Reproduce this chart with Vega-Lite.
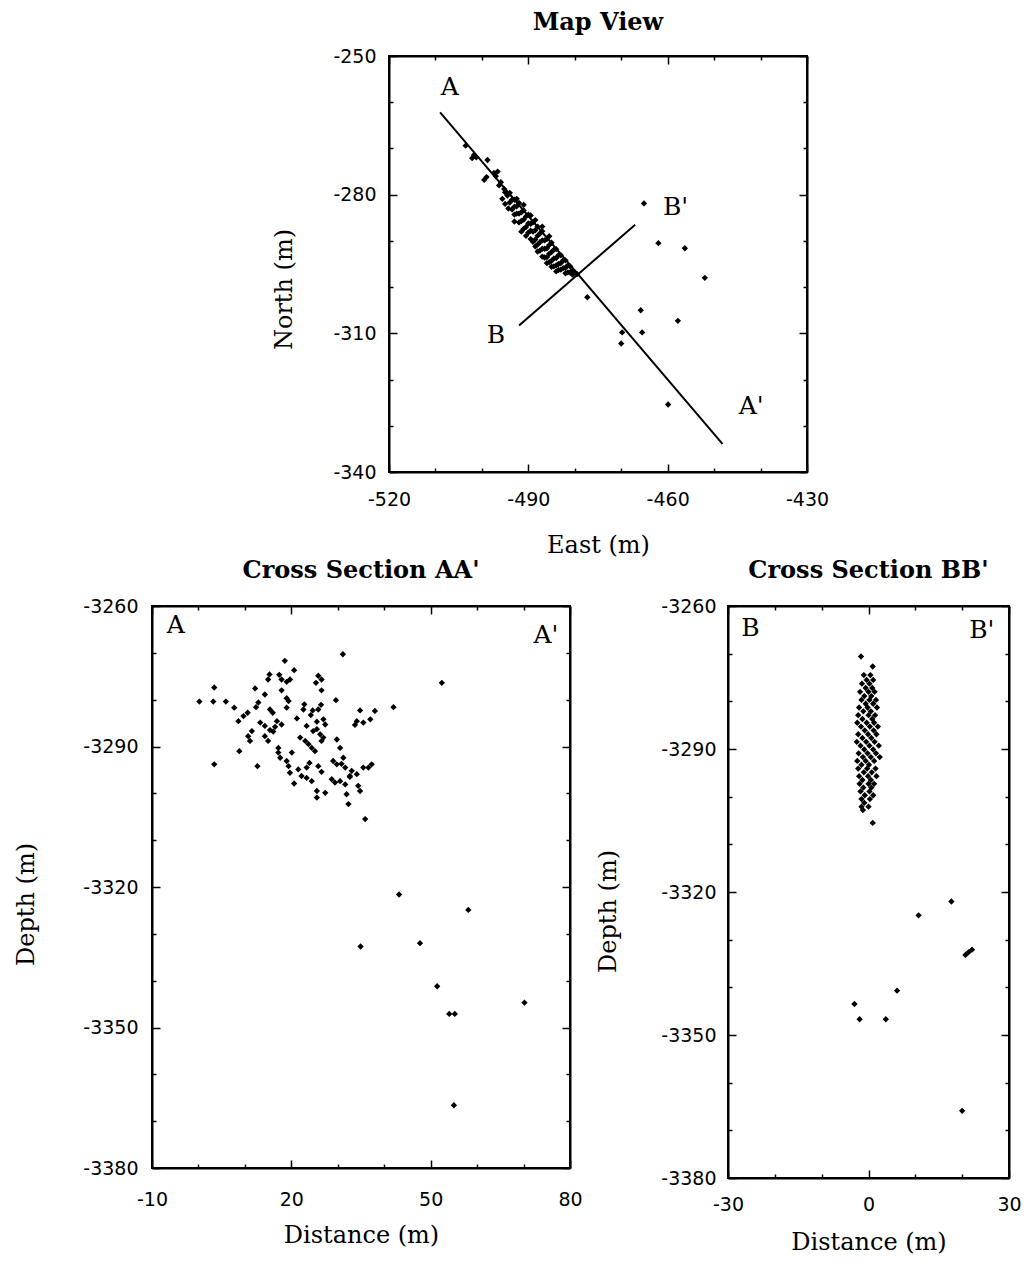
{
  "$schema": "https://vega.github.io/schema/vega-lite/v6.json",
  "background": "white",
  "padding": {"left": 13, "top": 10, "right": 5, "bottom": 5},
  "config": {
    "view": {"stroke": "black", "strokeWidth": 2},
    "axis": {"grid": false, "domainColor": "black", "domainWidth": 2, "tickColor": "black", "tickWidth": 1.5, "labelFont": "DejaVu Sans", "labelFontSize": 19, "labelColor": "black", "titleFont": "DejaVu Serif", "titleFontSize": 24, "titleFontWeight": "normal", "titleColor": "black", "labelFlush": false, "labelOverlap": false},
    "title": {"font": "DejaVu Serif", "fontSize": 24, "fontWeight": "bold", "color": "black", "anchor": "middle"}
  },
  "datasets": {
    "mapPts": [
      {"e": -503.5, "n": -269.4}, {"e": -501.7, "n": -271.4}, {"e": -502.1, "n": -272.1}, {"e": -501.2, "n": -271.9}, {"e": -498.8, "n": -272.5}, {"e": -499.5, "n": -276.8}, {"e": -499.0, "n": -276.2}, {"e": -497.4, "n": -275.3}, {"e": -497.0, "n": -276.0}, {"e": -496.6, "n": -275.0}, {"e": -495.9, "n": -277.3}, {"e": -496.3, "n": -278.0}, {"e": -495.2, "n": -278.8}, {"e": -495.6, "n": -280.9}, {"e": -494.5, "n": -280.2}, {"e": -495.0, "n": -279.5}, {"e": -495.0, "n": -282.0}, {"e": -494.3, "n": -283.0},
      {"e": -494.0, "n": -279.6}, {"e": -494.0, "n": -281.7}, {"e": -493.5, "n": -281.1}, {"e": -493.5, "n": -283.2}, {"e": -493.0, "n": -281.1}, {"e": -493.0, "n": -282.6}, {"e": -493.0, "n": -284.3}, {"e": -492.5, "n": -282.5}, {"e": -492.5, "n": -284.1}, {"e": -492.0, "n": -281.8}, {"e": -492.0, "n": -284.1}, {"e": -492.0, "n": -286.0}, {"e": -491.5, "n": -283.8}, {"e": -491.5, "n": -285.7}, {"e": -491.0, "n": -283.4}, {"e": -491.0, "n": -285.4}, {"e": -491.0, "n": -287.4}, {"e": -490.5, "n": -284.7}, {"e": -490.5, "n": -287.0}, {"e": -490.0, "n": -284.3}, {"e": -490.0, "n": -286.2}, {"e": -490.0, "n": -288.2}, {"e": -489.5, "n": -286.3}, {"e": -489.5, "n": -287.8}, {"e": -489.5, "n": -289.6}, {"e": -489.0, "n": -286.0}, {"e": -489.0, "n": -288.0}, {"e": -488.5, "n": -287.7}, {"e": -488.5, "n": -289.7}, {"e": -488.5, "n": -291.2}, {"e": -488.0, "n": -286.9}, {"e": -488.0, "n": -288.9}, {"e": -488.0, "n": -290.8}, {"e": -487.5, "n": -288.4}, {"e": -487.5, "n": -290.3}, {"e": -487.5, "n": -292.1}, {"e": -487.0, "n": -287.9}, {"e": -487.0, "n": -289.9}, {"e": -487.0, "n": -291.7}, {"e": -486.5, "n": -289.9}, {"e": -486.5, "n": -291.7}, {"e": -486.5, "n": -293.6}, {"e": -486.0, "n": -289.6}, {"e": -486.0, "n": -291.6}, {"e": -486.0, "n": -293.5}, {"e": -485.5, "n": -290.9}, {"e": -485.5, "n": -292.8}, {"e": -485.5, "n": -294.6}, {"e": -485.0, "n": -290.4}, {"e": -485.0, "n": -292.4}, {"e": -485.0, "n": -294.3}, {"e": -484.5, "n": -291.9}, {"e": -484.5, "n": -293.8}, {"e": -484.5, "n": -295.5}, {"e": -484.0, "n": -291.8}, {"e": -484.0, "n": -293.7}, {"e": -484.0, "n": -295.3}, {"e": -483.5, "n": -293.1}, {"e": -483.5, "n": -295.0}, {"e": -483.5, "n": -296.3}, {"e": -483.0, "n": -293.1}, {"e": -483.0, "n": -294.8}, {"e": -483.0, "n": -296.2}, {"e": -482.5, "n": -294.2}, {"e": -482.5, "n": -295.9}, {"e": -482.0, "n": -294.2}, {"e": -482.0, "n": -295.8}, {"e": -482.0, "n": -297.0}, {"e": -481.5, "n": -295.3}, {"e": -481.5, "n": -296.8}, {"e": -481.0, "n": -295.5}, {"e": -481.0, "n": -296.8}, {"e": -480.5, "n": -296.4}, {"e": -480.5, "n": -297.3}, {"e": -480.0, "n": -296.8}, {"e": -479.5, "n": -297.2},
      {"e": -491.5, "n": -288.0}, {"e": -490.5, "n": -288.9}, {"e": -489.0, "n": -290.2}, {"e": -488.0, "n": -292.3}, {"e": -487.0, "n": -293.4}, {"e": -486.0, "n": -294.8}, {"e": -485.0, "n": -295.6}, {"e": -484.0, "n": -296.6}, {"e": -493.0, "n": -285.8}, {"e": -492.5, "n": -280.9}, {"e": -491.0, "n": -282.2}, {"e": -489.5, "n": -284.5}, {"e": -488.5, "n": -285.5}, {"e": -487.0, "n": -286.9}, {"e": -485.5, "n": -289.0},
      {"e": -465.1, "n": -281.9}, {"e": -462.0, "n": -290.5}, {"e": -456.3, "n": -291.6}, {"e": -452.0, "n": -298.0}, {"e": -477.3, "n": -302.2}, {"e": -465.8, "n": -305.0}, {"e": -457.8, "n": -307.3}, {"e": -469.8, "n": -309.8}, {"e": -465.5, "n": -309.8}, {"e": -470.0, "n": -312.2}, {"e": -459.9, "n": -325.4}
    ],
    "mapLines": [
      {"seg": "AA'", "i": 0, "e": -509.0, "n": -262.2}, {"seg": "AA'", "i": 1, "e": -448.2, "n": -333.9},
      {"seg": "BB'", "i": 0, "e": -492.0, "n": -308.3}, {"seg": "BB'", "i": 1, "e": -467.0, "n": -286.5}
    ],
    "mapText": [
      {"label": "A", "e": -506.9, "n": -256.7}, {"label": "A'", "e": -442.0, "n": -325.7}, {"label": "B", "e": -497.0, "n": -310.4}, {"label": "B'", "e": -458.3, "n": -282.7}
    ],
    "aaPts": [
      {"d": 31.1, "z": -3270.3}, {"d": 18.6, "z": -3271.7}, {"d": 20.6, "z": -3273.7}, {"d": 15.3, "z": -3274.6}, {"d": 15.0, "z": -3275.7}, {"d": 17.4, "z": -3274.7}, {"d": 17.9, "z": -3275.7}, {"d": 19.0, "z": -3276.2}, {"d": 19.7, "z": -3275.7}, {"d": 25.8, "z": -3274.9}, {"d": 26.5, "z": -3275.7}, {"d": 25.3, "z": -3276.4}, {"d": 52.4, "z": -3276.4}, {"d": 3.4, "z": -3277.4}, {"d": 12.2, "z": -3277.6}, {"d": 17.9, "z": -3278.0}, {"d": 26.5, "z": -3278.0}, {"d": 14.3, "z": -3278.9}, {"d": 19.0, "z": -3279.7}, {"d": 19.4, "z": -3280.3}, {"d": 0.2, "z": -3280.4}, {"d": 3.2, "z": -3280.4}, {"d": 5.9, "z": -3280.4}, {"d": 7.7, "z": -3281.7}, {"d": 29.6, "z": -3280.1}, {"d": 42.0, "z": -3281.6}, {"d": 34.8, "z": -3282.3}, {"d": 38.0, "z": -3282.4}, {"d": 12.9, "z": -3280.6}, {"d": 12.4, "z": -3281.6}, {"d": 22.8, "z": -3281.0}, {"d": 22.6, "z": -3282.1}, {"d": 26.4, "z": -3281.1}, {"d": 25.8, "z": -3282.1}, {"d": 15.4, "z": -3282.1}, {"d": 16.0, "z": -3282.8}, {"d": 24.6, "z": -3282.3}, {"d": 24.2, "z": -3283.3}, {"d": 19.0, "z": -3281.7}, {"d": 10.6, "z": -3282.8}, {"d": 9.7, "z": -3283.5}, {"d": 8.6, "z": -3284.6}, {"d": 21.2, "z": -3284.0}, {"d": 26.9, "z": -3284.2}, {"d": 25.5, "z": -3284.7}, {"d": 27.3, "z": -3285.3}, {"d": 34.1, "z": -3284.6}, {"d": 33.7, "z": -3285.4}, {"d": 37.0, "z": -3284.2}, {"d": 35.5, "z": -3284.9}, {"d": 13.3, "z": -3284.9}, {"d": 14.3, "z": -3285.6}, {"d": 16.9, "z": -3284.6}, {"d": 16.5, "z": -3285.8}, {"d": 17.9, "z": -3285.3}, {"d": 16.1, "z": -3286.8}, {"d": 15.4, "z": -3286.5}, {"d": 23.3, "z": -3285.6}, {"d": 24.7, "z": -3286.7}, {"d": 25.5, "z": -3286.3}, {"d": 11.5, "z": -3286.7}, {"d": 10.7, "z": -3287.8}, {"d": 11.1, "z": -3288.8}, {"d": 14.3, "z": -3287.8}, {"d": 15.0, "z": -3288.8}, {"d": 21.9, "z": -3288.1}, {"d": 23.0, "z": -3288.8}, {"d": 23.7, "z": -3289.5}, {"d": 24.4, "z": -3290.3}, {"d": 25.1, "z": -3291.0}, {"d": 26.2, "z": -3287.4}, {"d": 26.5, "z": -3288.8}, {"d": 26.9, "z": -3288.1}, {"d": 29.8, "z": -3288.5}, {"d": 30.5, "z": -3290.3}, {"d": 8.8, "z": -3291.0}, {"d": 17.2, "z": -3290.3}, {"d": 17.2, "z": -3291.3}, {"d": 17.6, "z": -3292.4}, {"d": 20.1, "z": -3291.3}, {"d": 19.0, "z": -3293.1}, {"d": 19.4, "z": -3294.2}, {"d": 23.9, "z": -3293.5}, {"d": 23.3, "z": -3294.5}, {"d": 25.8, "z": -3294.2}, {"d": 26.5, "z": -3295.4}, {"d": 29.0, "z": -3293.1}, {"d": 29.8, "z": -3293.8}, {"d": 30.8, "z": -3293.7}, {"d": 31.2, "z": -3292.4}, {"d": 31.6, "z": -3294.5}, {"d": 33.0, "z": -3295.2}, {"d": 32.6, "z": -3296.3}, {"d": 34.1, "z": -3295.9}, {"d": 35.5, "z": -3294.5}, {"d": 37.3, "z": -3293.8}, {"d": 36.6, "z": -3294.5}, {"d": 3.4, "z": -3293.8}, {"d": 12.7, "z": -3294.2}, {"d": 19.7, "z": -3295.6}, {"d": 21.5, "z": -3294.9}, {"d": 22.2, "z": -3296.3}, {"d": 23.3, "z": -3296.7}, {"d": 24.4, "z": -3297.4}, {"d": 20.6, "z": -3297.9}, {"d": 28.7, "z": -3297.0}, {"d": 29.4, "z": -3297.7}, {"d": 30.5, "z": -3297.4}, {"d": 31.6, "z": -3298.1}, {"d": 32.6, "z": -3296.5}, {"d": 34.4, "z": -3298.4}, {"d": 34.8, "z": -3299.5}, {"d": 25.5, "z": -3299.5}, {"d": 25.5, "z": -3300.9}, {"d": 27.3, "z": -3299.9}, {"d": 31.9, "z": -3300.2}, {"d": 32.3, "z": -3302.3}, {"d": 35.9, "z": -3305.5},
      {"d": 43.2, "z": -3321.6}, {"d": 58.1, "z": -3324.9}, {"d": 34.9, "z": -3332.7}, {"d": 47.7, "z": -3332.0}, {"d": 51.4, "z": -3341.2}, {"d": 54.0, "z": -3347.1}, {"d": 55.2, "z": -3347.1}, {"d": 70.2, "z": -3344.7}, {"d": 55.0, "z": -3366.6}
    ],
    "aaText": [{"label": "A", "d": -4.9, "z": -3264.1}, {"label": "A'", "d": 74.8, "z": -3266.2}],
    "bbPts": [
      {"d": -1.6, "z": -3270.6}, {"d": 0.9, "z": -3272.7}, {"d": -1.0, "z": -3274.5}, {"d": 0.4, "z": -3274.5}, {"d": -0.4, "z": -3275.5}, {"d": 1.0, "z": -3275.5}, {"d": -1.4, "z": -3276.3}, {"d": 0.2, "z": -3276.3}, {"d": 0.8, "z": -3277.2}, {"d": -0.6, "z": -3277.2}, {"d": -1.8, "z": -3278.0}, {"d": 0.0, "z": -3278.0}, {"d": 1.3, "z": -3278.0}, {"d": -0.9, "z": -3278.9}, {"d": 0.6, "z": -3278.9}, {"d": -1.5, "z": -3279.7}, {"d": 0.2, "z": -3279.7}, {"d": 1.6, "z": -3279.7}, {"d": -0.6, "z": -3280.5}, {"d": 1.0, "z": -3280.5}, {"d": -2.0, "z": -3281.3}, {"d": -0.2, "z": -3281.3}, {"d": 1.8, "z": -3281.3}, {"d": -1.1, "z": -3282.1}, {"d": 0.5, "z": -3282.1}, {"d": -2.2, "z": -3282.9}, {"d": 0.0, "z": -3282.9}, {"d": 1.4, "z": -3282.9}, {"d": -1.3, "z": -3283.7}, {"d": 0.8, "z": -3283.7}, {"d": -2.4, "z": -3284.5}, {"d": -0.4, "z": -3284.5}, {"d": 1.2, "z": -3284.5}, {"d": -1.6, "z": -3285.3}, {"d": 0.3, "z": -3285.3}, {"d": 2.0, "z": -3285.3}, {"d": -0.8, "z": -3286.1}, {"d": 1.1, "z": -3286.1}, {"d": -2.2, "z": -3286.9}, {"d": -0.1, "z": -3286.9}, {"d": 1.7, "z": -3286.9}, {"d": -1.3, "z": -3287.7}, {"d": 0.6, "z": -3287.7}, {"d": -2.5, "z": -3288.5}, {"d": -0.5, "z": -3288.5}, {"d": 1.3, "z": -3288.5}, {"d": -1.7, "z": -3289.3}, {"d": 0.2, "z": -3289.3}, {"d": 2.2, "z": -3289.3}, {"d": -0.9, "z": -3290.1}, {"d": 1.0, "z": -3290.1}, {"d": -2.1, "z": -3290.9}, {"d": -0.2, "z": -3290.9}, {"d": 1.6, "z": -3290.9}, {"d": -1.2, "z": -3291.7}, {"d": 0.5, "z": -3291.7}, {"d": 2.4, "z": -3291.7}, {"d": -2.4, "z": -3292.5}, {"d": -0.6, "z": -3292.5}, {"d": 1.2, "z": -3292.5}, {"d": -1.5, "z": -3293.3}, {"d": 0.1, "z": -3293.3}, {"d": -2.2, "z": -3294.1}, {"d": -0.3, "z": -3294.1}, {"d": 1.5, "z": -3294.1}, {"d": -1.0, "z": -3294.9}, {"d": 0.7, "z": -3294.9}, {"d": -2.0, "z": -3295.7}, {"d": -0.1, "z": -3295.7}, {"d": 1.7, "z": -3295.7}, {"d": -1.3, "z": -3296.5}, {"d": 0.5, "z": -3296.5}, {"d": -1.9, "z": -3297.3}, {"d": 0.0, "z": -3297.3}, {"d": 1.2, "z": -3297.3}, {"d": -1.1, "z": -3298.1}, {"d": 0.6, "z": -3298.1}, {"d": -1.7, "z": -3298.9}, {"d": 0.2, "z": -3298.9}, {"d": -0.8, "z": -3299.7}, {"d": 1.0, "z": -3299.7}, {"d": -1.5, "z": -3300.5}, {"d": 0.3, "z": -3300.5}, {"d": -0.9, "z": -3301.3}, {"d": -1.5, "z": -3302.1}, {"d": 0.0, "z": -3302.1}, {"d": -1.2, "z": -3302.8}, {"d": 0.9, "z": -3305.5},
      {"d": 17.7, "z": -3322.0}, {"d": 10.7, "z": -3324.9}, {"d": 20.7, "z": -3333.2}, {"d": 21.4, "z": -3332.6}, {"d": 22.1, "z": -3332.1}, {"d": 6.1, "z": -3340.7}, {"d": -3.0, "z": -3343.5}, {"d": -1.9, "z": -3346.7}, {"d": 3.7, "z": -3346.7}, {"d": 20.0, "z": -3365.9}
    ],
    "bbText": [{"label": "B", "d": -25.2, "z": -3264.6}, {"label": "B'", "d": 24.2, "z": -3265.1}]
  },
  "spacing": 0,
  "vconcat": [
    {
      "spacing": 117,
      "hconcat": [
        {"width": 2, "height": 1, "view": {"stroke": null, "fill": "white"}, "data": {"values": []}, "mark": "point"},
        {
          "width": 418, "height": 416,
          "title": {"text": "Map View", "offset": 12},
          "layer": [
            {
              "data": {"name": "mapPts"},
              "mark": {"type": "point", "shape": "diamond", "filled": true, "color": "black", "size": 40, "opacity": 1},
              "encoding": {
                "x": {"field": "e", "type": "quantitative", "scale": {"domain": [-520, -430], "nice": false, "zero": false},
                  "axis": {"orient": "bottom", "values": [-520, -510, -500, -490, -480, -470, -460, -450, -440, -430], "labelExpr": "(datum.value + 520) % 30 === 0 ? '' + datum.value : ''", "tickSize": {"condition": {"test": "(datum.value + 520) % 30 === 0", "value": -8}, "value": -4}, "labelPadding": 26, "title": "East (m)", "titlePadding": 20}},
                "y": {"field": "n", "type": "quantitative", "scale": {"domain": [-340, -250], "nice": false, "zero": false},
                  "axis": {"orient": "left", "values": [-340, -330, -320, -310, -300, -290, -280, -270, -260, -250], "labelExpr": "(datum.value + 250) % 30 === 0 ? '' + datum.value : ''", "tickSize": {"condition": {"test": "(datum.value + 250) % 30 === 0", "value": -8}, "value": -4}, "labelPadding": 21, "title": "North (m)", "titlePadding": 36, "titleY": 233}}
              }
            },
            {
              "data": {"name": "mapLines"},
              "mark": {"type": "line", "color": "black", "strokeWidth": 2},
              "encoding": {
                "x": {"field": "e", "type": "quantitative", "axis": null},
                "y": {"field": "n", "type": "quantitative", "axis": null},
                "detail": {"field": "seg"},
                "order": {"field": "i"}
              }
            },
            {
              "data": {"name": "mapText"},
              "mark": {"type": "text", "font": "DejaVu Serif", "fontSize": 25, "color": "black", "align": "center", "baseline": "middle"},
              "encoding": {
                "x": {"field": "e", "type": "quantitative", "axis": {"orient": "top", "values": [-520, -510, -500, -490, -480, -470, -460, -450, -440, -430], "labels": false, "title": null, "tickSize": {"condition": {"test": "(datum.value + 520) % 30 === 0", "value": -8}, "value": -4}}},
                "y": {"field": "n", "type": "quantitative", "axis": {"orient": "right", "values": [-340, -330, -320, -310, -300, -290, -280, -270, -260, -250], "labels": false, "title": null, "tickSize": {"condition": {"test": "(datum.value + 250) % 30 === 0", "value": -8}, "value": -4}}},
                "text": {"field": "label"}
              }
            }
          ],
          "resolve": {"axis": {"x": "independent", "y": "independent"}}
        }
      ]
    },
    {
      "spacing": 11,
      "hconcat": [
        {
          "width": 418, "height": 562,
          "title": {"text": "Cross Section AA'", "offset": 14},
          "layer": [
            {
              "data": {"name": "aaPts"},
              "mark": {"type": "point", "shape": "diamond", "filled": true, "color": "black", "size": 40, "opacity": 1},
              "encoding": {
                "x": {"field": "d", "type": "quantitative", "scale": {"domain": [-10, 80], "nice": false, "zero": false},
                  "axis": {"orient": "bottom", "values": [-10, 0, 10, 20, 30, 40, 50, 60, 70, 80], "labelExpr": "(datum.value + 10) % 30 === 0 ? '' + datum.value : ''", "tickSize": {"condition": {"test": "(datum.value + 10) % 30 === 0", "value": -8}, "value": -4}, "labelPadding": 30, "title": "Distance (m)", "titlePadding": 10}},
                "y": {"field": "z", "type": "quantitative", "scale": {"domain": [-3380, -3260], "nice": false, "zero": false},
                  "axis": {"orient": "left", "values": [-3380, -3370, -3360, -3350, -3340, -3330, -3320, -3310, -3300, -3290, -3280, -3270, -3260], "labelExpr": "(datum.value + 3260) % 30 === 0 ? '' + datum.value : ''", "tickSize": {"condition": {"test": "(datum.value + 3260) % 30 === 0", "value": -8}, "value": -4}, "labelPadding": 22, "title": "Depth (m)", "titlePadding": 44, "titleY": 298}}
              }
            },
            {
              "data": {"name": "aaText"},
              "mark": {"type": "text", "font": "DejaVu Serif", "fontSize": 25, "color": "black", "align": "center", "baseline": "middle"},
              "encoding": {
                "x": {"field": "d", "type": "quantitative", "axis": {"orient": "top", "values": [-10, 0, 10, 20, 30, 40, 50, 60, 70, 80], "labels": false, "title": null, "tickSize": {"condition": {"test": "(datum.value + 10) % 30 === 0", "value": -8}, "value": -4}}},
                "y": {"field": "z", "type": "quantitative", "axis": {"orient": "right", "values": [-3380, -3370, -3360, -3350, -3340, -3330, -3320, -3310, -3300, -3290, -3280, -3270, -3260], "labels": false, "title": null, "tickSize": {"condition": {"test": "(datum.value + 3260) % 30 === 0", "value": -8}, "value": -4}}},
                "text": {"field": "label"}
              }
            }
          ],
          "resolve": {"axis": {"x": "independent", "y": "independent"}}
        },
        {
          "width": 281, "height": 572,
          "title": {"text": "Cross Section BB'", "offset": 14},
          "layer": [
            {
              "data": {"name": "bbPts"},
              "mark": {"type": "point", "shape": "diamond", "filled": true, "color": "black", "size": 40, "opacity": 1},
              "encoding": {
                "x": {"field": "d", "type": "quantitative", "scale": {"domain": [-30, 30], "nice": false, "zero": false},
                  "axis": {"orient": "bottom", "values": [-30, -20, -10, 0, 10, 20, 30], "labelExpr": "datum.value % 30 === 0 ? '' + datum.value : ''", "tickSize": {"condition": {"test": "datum.value % 30 === 0", "value": -8}, "value": -4}, "labelPadding": 25, "title": "Distance (m)", "titlePadding": 12}},
                "y": {"field": "z", "type": "quantitative", "scale": {"domain": [-3380, -3260], "nice": false, "zero": false},
                  "axis": {"orient": "left", "values": [-3380, -3370, -3360, -3350, -3340, -3330, -3320, -3310, -3300, -3290, -3280, -3270, -3260], "labelExpr": "(datum.value + 3260) % 30 === 0 ? '' + datum.value : ''", "tickSize": {"condition": {"test": "(datum.value + 3260) % 30 === 0", "value": -8}, "value": -4}, "labelPadding": 20, "title": "Depth (m)", "titlePadding": 40, "titleY": 305}}
              }
            },
            {
              "data": {"name": "bbText"},
              "mark": {"type": "text", "font": "DejaVu Serif", "fontSize": 25, "color": "black", "align": "center", "baseline": "middle"},
              "encoding": {
                "x": {"field": "d", "type": "quantitative", "axis": {"orient": "top", "values": [-30, -20, -10, 0, 10, 20, 30], "labels": false, "title": null, "tickSize": {"condition": {"test": "datum.value % 30 === 0", "value": -8}, "value": -4}}},
                "y": {"field": "z", "type": "quantitative", "axis": {"orient": "right", "values": [-3380, -3370, -3360, -3350, -3340, -3330, -3320, -3310, -3300, -3290, -3280, -3270, -3260], "labels": false, "title": null, "tickSize": {"condition": {"test": "(datum.value + 3260) % 30 === 0", "value": -8}, "value": -4}}},
                "text": {"field": "label"}
              }
            }
          ],
          "resolve": {"axis": {"x": "independent", "y": "independent"}}
        }
      ]
    }
  ]
}
